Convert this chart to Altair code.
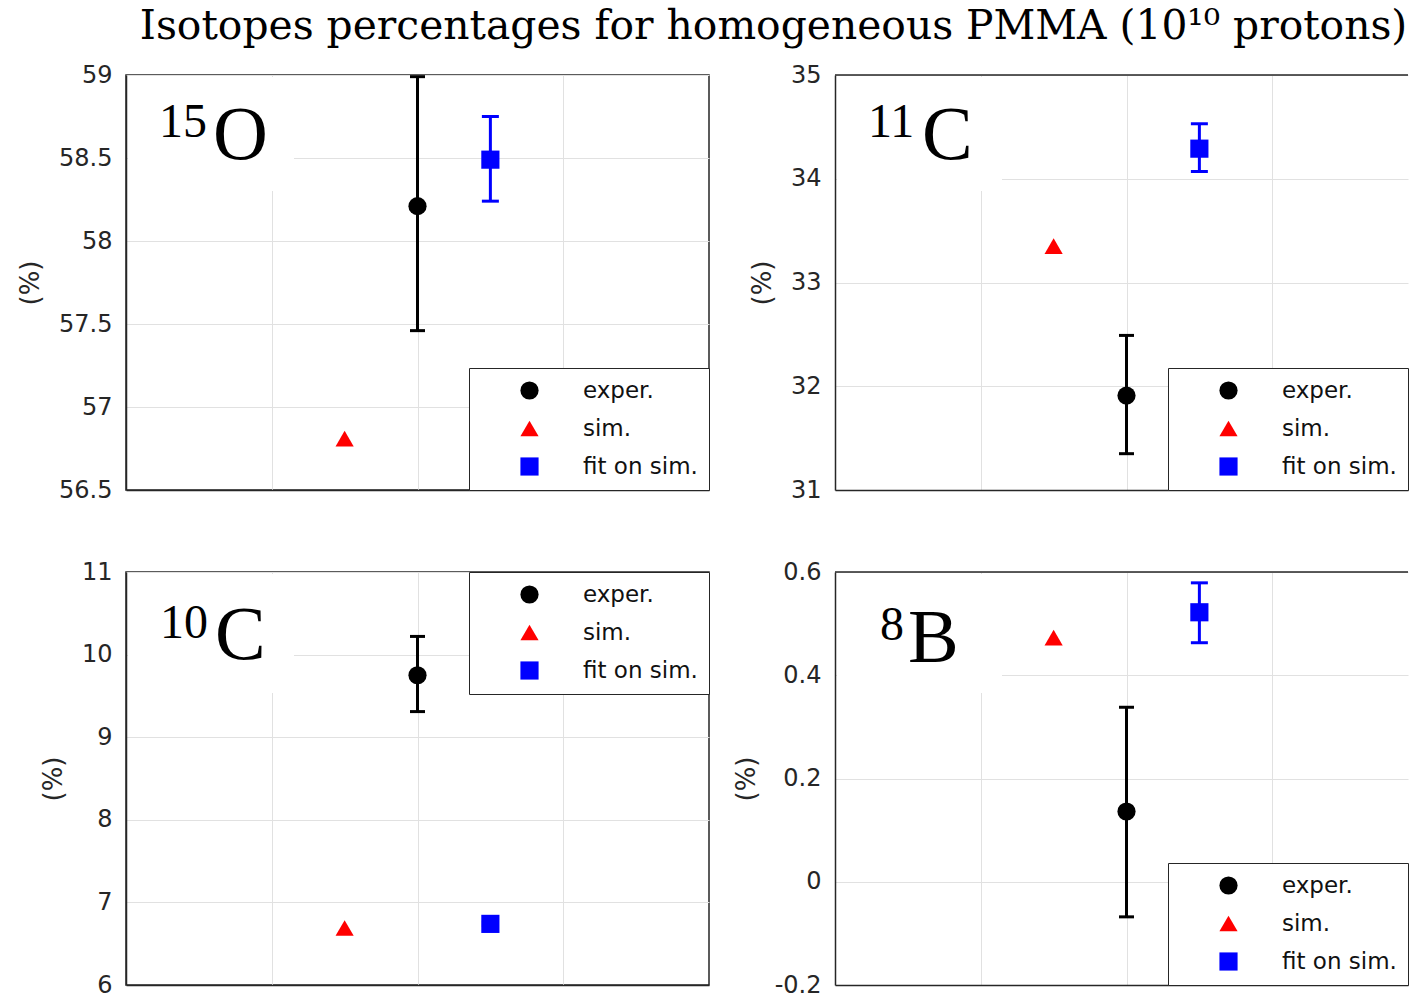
import altair as alt
import pandas as pd

# ---------------- data ----------------
isotope_mass = ["15", "11", "10", "8"]
isotope_elem = ["O", "C", "C", "B"]
series_names = ["exper.", "sim.", "fit on sim."]
series_colors = ["#000000", "#ff0000", "#0000ff"]
series_shapes = ["circle", "triangle-up", "square"]
series_x = [2.0, 1.5, 2.5]

exper_val = [58.21, 31.91, 9.75, 0.136]
exper_lo = [57.46, 31.35, 9.31, -0.068]
exper_hi = [58.99, 32.49, 10.22, 0.338]
sim_val = [56.81, 33.35, 6.69, 0.473]
fit_val = [58.49, 34.29, 6.74, 0.522]
fit_lo = [58.24, 34.07, 6.72, 0.463]
fit_hi = [58.75, 34.53, 6.76, 0.579]

y_min = [56.5, 31, 6, -0.2]
y_max = [59, 35, 11, 0.6]
y_ticks = [
    [56.5, 57, 57.5, 58, 58.5, 59],
    [31, 32, 33, 34, 35],
    [6, 7, 8, 9, 10, 11],
    [-0.2, 0, 0.2, 0.4, 0.6],
]
x_grid = [1, 2, 3]
legend_orient = ["bottom-right", "bottom-right", "top-right", "bottom-right"]

AX = "#262626"
LABEL_EXPR = "replace(format(datum.value, '~g'), '\u2212', '-')"
PT_SIZE = 330


def panel(i, width, height, xmax, mass_xy, elem_xy, box_wh, left_panel):
    pts = pd.DataFrame({
        "series": series_names,
        "x": series_x,
        "y": [exper_val[i], sim_val[i], fit_val[i]],
    })
    errs = pd.DataFrame({
        "x": [2.0, 2.5],
        "lo": [exper_lo[i], fit_lo[i]],
        "hi": [exper_hi[i], fit_hi[i]],
        "col": ["#000000", "#0000ff"],
        "cap": [15, 17],
    })
    lab = pd.DataFrame({"mass": [isotope_mass[i]], "elem": [isotope_elem[i]]})

    xs = alt.Scale(domain=[0, xmax], nice=False, zero=False)
    ys = alt.Scale(domain=[y_min[i], y_max[i]], nice=False, zero=False)
    xaxis = alt.Axis(values=x_grid, labels=False, ticks=False, title=None,
                     grid=True, domain=True)
    yaxis = alt.Axis(values=y_ticks[i], title="(%)", labelExpr=LABEL_EXPR,
                     grid=True, ticks=False, domain=True)

    leg = alt.Legend(
        title=None, orient=legend_orient[i], offset=0,
        fillColor="white", strokeColor=AX,
        padding=11, symbolOffset=38, labelOffset=42, rowPadding=14,
        labelFontSize=23, labelFont="DejaVu Sans", labelColor="#111111",
        symbolSize=PT_SIZE, symbolStrokeWidth=0, symbolOpacity=1, labelLimit=400,
    )

    box = alt.Chart(lab).mark_rect(fill="white").encode(
        x=alt.value(2), x2=alt.value(box_wh[0]),
        y=alt.value(2), y2=alt.value(box_wh[1]),
    )
    mass_t = alt.Chart(lab).mark_text(
        font="Liberation Serif", fontSize=48, align="left",
        baseline="alphabetic", color="black",
    ).encode(text="mass:N", x=alt.value(mass_xy[0]), y=alt.value(mass_xy[1]))
    elem_t = alt.Chart(lab).mark_text(
        font="Liberation Serif", fontSize=76, align="left",
        baseline="alphabetic", color="black",
    ).encode(text="elem:N", x=alt.value(elem_xy[0]), y=alt.value(elem_xy[1]))

    rules = alt.Chart(errs).mark_rule(strokeWidth=3, opacity=1).encode(
        x=alt.X("x:Q", scale=xs, axis=xaxis),
        y=alt.Y("lo:Q", scale=ys, axis=yaxis),
        y2="hi:Q",
        color=alt.Color("col:N", scale=None),
    )
    cap_lo = alt.Chart(errs).mark_tick(thickness=3, orient="horizontal", opacity=1).encode(
        x=alt.X("x:Q", scale=xs, axis=xaxis),
        y=alt.Y("lo:Q", scale=ys, axis=yaxis),
        size=alt.Size("cap:Q", scale=None),
        color=alt.Color("col:N", scale=None),
    )
    cap_hi = alt.Chart(errs).mark_tick(thickness=3, orient="horizontal", opacity=1).encode(
        x=alt.X("x:Q", scale=xs, axis=xaxis),
        y=alt.Y("hi:Q", scale=ys, axis=yaxis),
        size=alt.Size("cap:Q", scale=None),
        color=alt.Color("col:N", scale=None),
    )
    points = alt.Chart(pts).mark_point(filled=True, size=PT_SIZE, opacity=1).encode(
        x=alt.X("x:Q", scale=xs, axis=xaxis),
        y=alt.Y("y:Q", scale=ys, axis=yaxis),
        color=alt.Color("series:N", scale=alt.Scale(domain=series_names, range=series_colors), legend=leg),
        shape=alt.Shape("series:N", scale=alt.Scale(domain=series_names, range=series_shapes), legend=leg),
    )
    layers = [box, mass_t, elem_t, rules, cap_lo, cap_hi, points]
    if left_panel:
        view = alt.ViewBackground(stroke=AX, strokeWidth=1.5)
    else:
        top = alt.Chart(lab).mark_rule(color=AX, strokeWidth=1.5).encode(
            x=alt.value(0), x2=alt.value(width), y=alt.value(0)
        )
        layers.append(top)
        view = alt.ViewBackground(stroke=None)
    return alt.layer(*layers).properties(width=width, height=height, view=view)


LW = 583
RW = 573
p0 = panel(0, LW, 415, 4, (33, 62), (87, 84), (168, 116), True)
p1 = panel(1, RW, 415, RW / 145.75, (33, 62), (87, 84), (167, 116), False)
p2 = panel(2, LW, 413, 4, (34, 66), (89, 87), (168, 121), True)
p3 = panel(3, RW, 413, RW / 145.75, (45, 68), (73, 90), (167, 121), False)

res_s = dict(color="independent", shape="independent", x="independent", y="independent")
res_l = dict(color="independent", shape="independent")

chart = alt.concat(
    p0, p1, p2, p3, columns=2, spacing={"row": 82, "column": 126}, bounds="flush"
).resolve_scale(**res_s).resolve_legend(**res_l).properties(
    title=alt.TitleParams(
        "Isotopes percentages for homogeneous PMMA (10\u00b9\u2070 protons)",
        font="DejaVu Serif", fontSize=40.8, fontWeight="normal", color="#000000",
        anchor="start", dx=123, offset=14,
    ),
    padding={"left": 16, "top": 6, "right": 0, "bottom": 0},
    background="white",
).configure_axis(
    labelFont="DejaVu Sans", labelFontSize=24, labelColor=AX,
    titleFont="DejaVu Sans", titleFontSize=26, titleColor=AX, titleFontWeight="normal",
    domainColor=AX, domainWidth=1.5, gridColor="#e1e1e1", gridWidth=1,
    labelPadding=14, titlePadding=15,
).configure_legend(symbolOpacity=1)

chart.save("out.html", embed_options={"renderer": "svg", "actions": False})
